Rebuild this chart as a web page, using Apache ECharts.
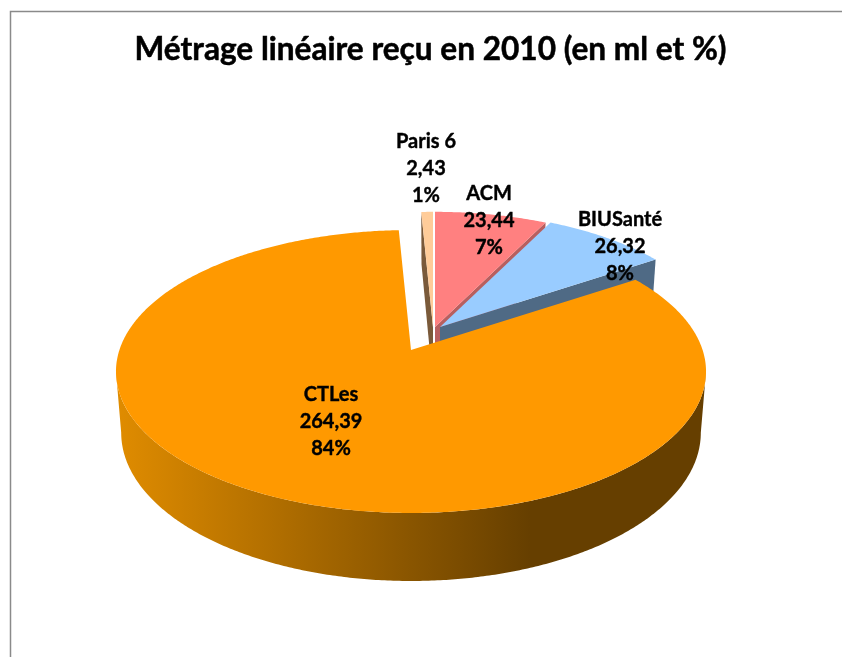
<!DOCTYPE html>
<html>
<head>
<meta charset="utf-8">
<style>html,body{margin:0;padding:0;background:#fff;overflow:hidden}#c{width:842px;height:657px}</style>
<script src="https://cdn.jsdelivr.net/npm/echarts@6/dist/echarts.min.js"></script>
</head>
<body>
<div id="c"></div>
<script>
// Data, clockwise from 12 o'clock
const chartTitle = 'Métrage linéaire reçu en 2010 (en ml et %)';
const categories = ['ACM', 'BIUSanté', 'CTLes', 'Paris 6'];
const values = [23.44, 26.32, 264.39, 2.43];

// Styling / layout, keyed by category order
const topColors = ['#FF8080', '#99CCFF', '#FF9900', '#FFCC99'];
const faceColors = ['#B85F5F', '#4F6A85', '#DE8A00', '#7A5A3A'];
const apex = [[435, 327], [440, 327], [411, 350], [433, 327]];   // exploded slice apex
const scales = [0.96, 0.96, 1, 0.96];
const labelAt = [[489, 221], [620, 247], [331, 422], [426, 169]];
const drawOrder = [3, 0, 1, 2];
const R = 291.6, S = 138.2, K = 0.152, D = 61.2, DEPTH_SHRINK = 1.018;
const TANGENT = Math.acos(-K) * 180 / Math.PI;  // where the rim turns from back to front

const total = values.reduce((a, b) => a + b, 0);
const startAngles = [];
values.reduce((acc, v, i) => { startAngles[i] = acc; return acc + v / total * 360; }, 0);

function project(i, deg, radial, depth) {
  const t = deg * Math.PI / 180;
  const u = Math.sin(t) * radial, v = -Math.cos(t) * radial;
  const w = (1 - K * v) * (depth ? DEPTH_SHRINK : 1), s = scales[i];
  return [apex[i][0] + s * R * u / w, apex[i][1] + s * (S * v + depth) / w];
}
function arc(i, a0, a1, depth) {
  const pts = [], n = Math.max(2, Math.ceil(Math.abs(a1 - a0) * 2));
  for (let j = 0; j <= n; j++) pts.push(project(i, a0 + (a1 - a0) * j / n, 1, depth));
  return pts;
}
const poly = (points, fill, extra) => Object.assign({
  type: 'polygon', shape: { points }, style: { fill, stroke: null }, silent: true
}, extra || {});
function cutFace(i, deg, fill) {
  return poly([project(i, deg, 0, 0), project(i, deg, 1, 0), project(i, deg, 1, D), project(i, deg, 0, D)], fill);
}

function renderSlice(params, api) {
  const i = api.value(0);
  const a0 = startAngles[i], a1 = a0 + api.value(1) / total * 360;
  const wallFill = new echarts.graphic.LinearGradient(116, 0, 530, 0, [
    { offset: 0, color: '#E08C00' }, { offset: 1, color: '#663F00' }
  ], true);
  const children = [];
  if (categories[i] === 'CTLes') {
    const w0 = Math.max(a0, TANGENT), w1 = Math.min(a1, 360 - TANGENT);
    children.push(poly(arc(i, w0, w1, 0).concat(arc(i, w1, w0, D)), wallFill));
  } else if (categories[i] === 'Paris 6') {
    children.push(cutFace(i, a0, faceColors[i]));
  } else {
    children.push(cutFace(i, a1, faceColors[i]));
  }
  children.push(poly([project(i, a0, 0, 0)].concat(arc(i, a0, a1, 0)), topColors[i]));
  return { type: 'group', children };
}
function renderLabel(params, api) {
  const i = api.value(0), v = api.value(1);
  const txt = categories[i] + '\n' + v.toFixed(2).replace('.', ',') + '\n' + Math.round(v / total * 100) + '%';
  return {
    type: 'text', x: labelAt[i][0], y: labelAt[i][1], silent: true,
    style: { text: txt, fill: '#000', font: 'bold 20px Lato', align: 'center', verticalAlign: 'middle', lineHeight: 27,
             stroke: '#000', lineWidth: 0.4 }
  };
}

const chart = echarts.init(document.getElementById('c'), null, { renderer: 'canvas' });
const rows = drawOrder.map(i => [i, values[i]]);
chart.setOption({
  animation: false,
  backgroundColor: '#fff',
  title: {
    text: chartTitle, left: 425.5, top: 29, textAlign: 'center',
    textStyle: { fontFamily: 'Lato', fontWeight: 'bold', fontSize: 31.6, color: '#000', textBorderColor: '#000', textBorderWidth: 0.5 }
  },
  graphic: [{
    type: 'rect', silent: true, shape: { x: 10.5, y: 11.5, width: 900, height: 800 },
    style: { fill: 'none', stroke: '#8A8A8A', lineWidth: 1.5 }, z: -1
  }],
  series: [
    { type: 'custom', coordinateSystem: 'none', renderItem: renderSlice, data: rows, z: 2, silent: true },
    { type: 'custom', coordinateSystem: 'none', renderItem: renderLabel, data: rows, z: 3, silent: true }
  ]
});
</script>
</body>
</html>
